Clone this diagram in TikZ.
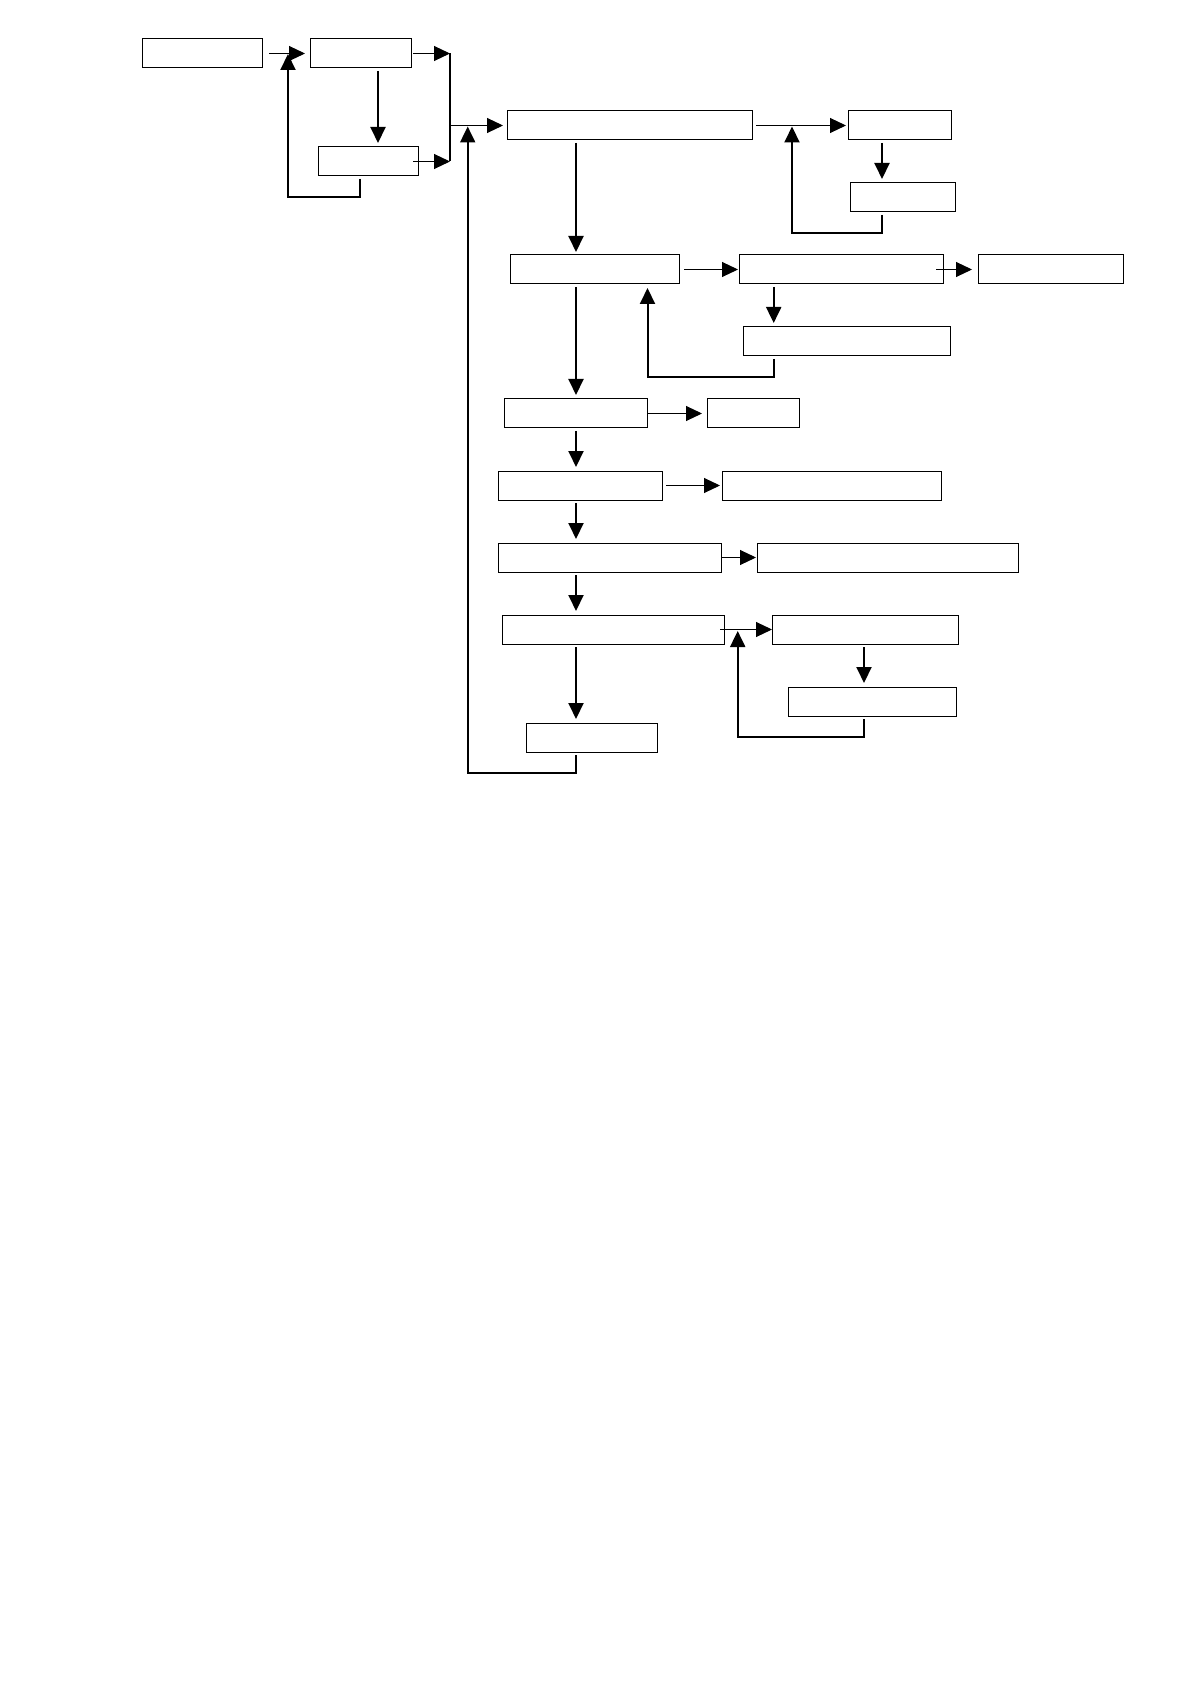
\documentclass[tikz,border=0pt]{standalone}
\usetikzlibrary{arrows.meta}
\begin{document}
\begin{tikzpicture}[x=0.5pt,y=-0.5pt,
  box/.style={draw=black,line width=0.5pt,inner sep=0pt,outer sep=0pt,minimum height=14.5pt,fill=white},
  thn/.style={draw=black,line width=0.5pt,-{Triangle[length=8pt,width=7.5pt]}},
  thk/.style={draw=black,line width=1pt,-{Triangle[length=8pt,width=7.5pt]}},
  bar/.style={draw=black,line width=1pt}]
\fill[white] (0,0) rectangle (1190,1684);
\useasboundingbox (0,0) rectangle (1190,1684);
% boxes
\node[box,minimum width=60pt]   (A) at (202,53.5) {};
\node[box,minimum width=50.5pt] (B) at (360.5,53.5) {};
\node[box,minimum width=50pt]   (C) at (368,161.5) {};
\node[box,minimum width=122.5pt](D) at (629.5,125.5) {};
\node[box,minimum width=51.5pt] (E) at (899.5,125.5) {};
\node[box,minimum width=52.5pt] (F) at (902.5,197.5) {};
\node[box,minimum width=84.5pt] (G) at (594.5,269.5) {};
\node[box,minimum width=102pt]  (H) at (841,269.5) {};
\node[box,minimum width=72.5pt] (I) at (1050.5,269.5) {};
\node[box,minimum width=103.5pt](J) at (846.5,341.5) {};
\node[box,minimum width=71.5pt] (K) at (575.5,413.5) {};
\node[box,minimum width=46pt]   (L) at (753,413.5) {};
\node[box,minimum width=82pt]   (M) at (580,485.5) {};
\node[box,minimum width=109.5pt](N) at (831.5,485.5) {};
\node[box,minimum width=111.5pt](O) at (609.5,557.5) {};
\node[box,minimum width=130.5pt](P) at (887.5,557.5) {};
\node[box,minimum width=111pt]  (Q) at (613,629.5) {};
\node[box,minimum width=93pt]   (R) at (865,629.5) {};
\node[box,minimum width=84pt]   (S) at (872,701.5) {};
\node[box,minimum width=65.5pt] (T) at (591.5,737.5) {};
% junction bar
\coordinate (bt) at (450,53.5);
\coordinate (bm) at (450,125.5);
\coordinate (bb) at (450,161.5);
% connectors
\draw[thn] ([shift={(7,0)}]A.east) -- ([shift={(-5,0)}]B.west);
\draw[thk] ([shift={(17.5,3)}]B.south) -- ([shift={(10,-4)}]C.north);
\draw[thn] ([shift={(2,0)}]B.east) -- (bt);
\draw[thn] ([shift={(-5,0)}]C.east) -- (bb);
\draw[bar] (bt) -- (bb);
\draw[thn] (bm) -- ([shift={(-4,0)}]D.west);
\draw[thk] ([shift={(-8,3)}]C.south) -- ++(0,18) -| ([shift={(-22,0.5)}]B.west);
\draw[thk] ([shift={(-53.5,3)}]D.south) -- ([shift={(-18.5,-3)}]G.north);
\draw[thn] ([shift={(4,0)}]D.east) -- ([shift={(-2,0)}]E.west);
\draw[thk] ([shift={(-17.5,3)}]E.south) -- ([shift={(-20.5,-4)}]F.north);
\draw[thk] ([shift={(-20.5,3)}]F.south) -- ++(0,18) -| ([shift={(-56,1)}]E.west);
\draw[thn] ([shift={(5,0)}]G.east) -- ([shift={(-1,0)}]H.west);
\draw[thn] ([shift={(-7,0)}]H.east) -- ([shift={(-6,0)}]I.west);
\draw[thk] ([shift={(-67.3,3)}]H.south) -- ([shift={(-72.8,-4)}]J.north);
\draw[thk] ([shift={(-72.5,3)}]J.south) -- ++(0,18) -| ([shift={(53,4)}]G.south);
\draw[thk] ([shift={(-18.5,3)}]G.south) -- ([shift={(0.5,-4)}]K.north);
\draw[thn] ([shift={(1,0)}]K.east) -- ([shift={(-5,0)}]L.west);
\draw[thk] ([shift={(0.5,3)}]K.south) -- ([shift={(-4,-4)}]M.north);
\draw[thn] ([shift={(4,0)}]M.east) -- ([shift={(-2,0)}]N.west);
\draw[thk] ([shift={(-4,3)}]M.south) -- ([shift={(-33.5,-4)}]O.north);
\draw[thn] (O.east) -- ([shift={(-1,0)}]P.west);
\draw[thk] ([shift={(-33.5,3)}]O.south) -- ([shift={(-37,-4)}]Q.north);
\draw[thn] ([shift={(-4,0)}]Q.east) -- (R.west);
\draw[thk] ([shift={(-1,3)}]R.south) -- ([shift={(-8,-4)}]S.north);
\draw[thk] ([shift={(-8,3)}]S.south) -- ++(0,18) -| ([shift={(-34.3,1.5)}]R.west);
\draw[thk] ([shift={(-37,3)}]Q.south) -- ([shift={(-15.5,-4)}]T.north);
\draw[thk] ([shift={(-15.5,3)}]T.south) -- ++(0,18) -| ([shift={(-39.3,1)}]D.west);
\end{tikzpicture}
\end{document}
